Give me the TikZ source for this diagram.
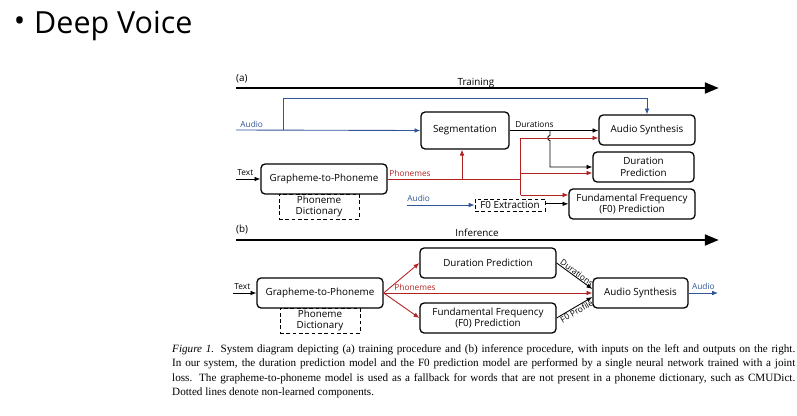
\documentclass[tikz,border=0pt]{standalone}
\usepackage{fontspec}
\setmainfont{Liberation Serif}
\newfontfamily\diagfont{Open Sans}
\usetikzlibrary{arrows.meta}

\definecolor{audioblue}{RGB}{47,85,151}
\definecolor{phonered}{RGB}{178,34,34}

\newcommand{\boxfont}{\diagfont\fontsize{8.4}{10}\selectfont}
\newcommand{\tagfont}{\diagfont\fontsize{7.1}{8}\selectfont}
\newcommand{\capfont}{\fontsize{9.5}{12.2}\selectfont}
\newcommand{\capline}[1]{\makebox[18.69cm][s]{#1}}

\tikzset{
  blk/.style={draw, rounded corners=3.5pt, line width=1.1pt, align=center, font=\boxfont, inner sep=0pt},
  dashblk/.style={draw, dash pattern=on 3.2pt off 2.2pt, line width=0.8pt, align=center, font=\boxfont, inner sep=0pt},
  sz/.style 2 args={minimum width=#1*0.03cm, minimum height=#2*0.03cm},
  arr/.style={-{Latex[length=5pt,width=4pt]}, line width=0.75pt},
  bluearr/.style={arr, audioblue},
  redarr/.style={arr, phonered},
  redline/.style={line width=0.75pt, phonered},
  timeline/.style={line width=2.5pt, -{Triangle[length=12pt,width=9pt]}},
  tag/.style={font=\tagfont, inner sep=1pt},
  capl/.style={font=\capfont, anchor=base west, inner sep=0pt},
}

\begin{document}
\begin{tikzpicture}[x=0.03cm, y=-0.03cm]
\useasboundingbox (0,0) rectangle (797,415);

% title
\node[font=\diagfont\fontsize{26}{30}\selectfont, inner sep=0pt] (bullet) at (19.5,24.5) {•};
\node[font=\diagfont\fontsize{26}{30}\selectfont, anchor=base west, inner sep=0pt] (title) at (34,33) {Deep Voice};

% (a) training
\node[font=\boxfont, anchor=base west, inner sep=0pt] (parta) at (236,81) {(a)};
\node[font=\boxfont, anchor=base, inner sep=0pt] (train) at (476,85) {Training};
\coordinate (ta0) at (236,88);
\coordinate (ta1) at (719,88);
\draw[timeline] (ta0) -- (ta1);

\node[dashblk, sz={80}{25}] (dicta) at (319,206.5) {Phoneme\\Dictionary};
\node[blk, sz={126}{30}] (gtpa) at (324,179) {Grapheme-to-Phoneme};
\node[blk, sz={88}{37}] (sega) at (465,130.5) {Segmentation};
\node[blk, sz={96}{30}] (syna) at (647,130) {Audio Synthesis};
\node[blk, sz={101}{30}] (dura) at (643.5,167) {Duration\\Prediction};
\node[blk, sz={126}{30}] (fza) at (632,204) {Fundamental Frequency\\(F0) Prediction};
\node[dashblk, sz={70}{12}] (fzx) at (510,205) {F0 Extraction};

% audio in
\coordinate (auda) at (236,130);
\coordinate (audak) at (283,130);
\coordinate (audatop) at (283,98);
\node[tag, text=audioblue, anchor=base west] (audalbl) at (239,127.5) {Audio};
\draw[bluearr] (auda) -- (sega.west);
\draw[bluearr] (audak) -- (audatop) -| (syna.north);

% text in
\coordinate (txta) at (236,179);
\node[tag, anchor=base west] (txtalbl) at (236,175.5) {Text};
\draw[arr] (txta) -- (gtpa.west);

% durations
\coordinate (durk) at (550,130.5);
\draw[arr] (sega.east |- durk) -- (durk -| syna.west);
\node[tag, anchor=base] (durlbl) at (534.5,127.5) {Durations};
\draw[arr] (durk) -- (550,135.5) .. controls (547,135.5) and (547,140.5) .. (550,140.5) |- (dura.west);

% phonemes
\coordinate (phk) at (462,179);
\coordinate (rtop) at (520.5,138);
\coordinate (rmid) at (520.5,173);
\coordinate (rbot) at (520.5,195);
\draw[redline] (gtpa.east) -- (rbot |- gtpa.east);
\node[tag, text=phonered, anchor=base west] (phlbla) at (388,176) {Phonemes};
\draw[redarr] (phk) -- (phk |- sega.south);
\draw[redline] (rtop) -- (rbot);
\draw[redarr] (rtop) -- (rtop -| syna.west);
\draw[redarr] (rmid) -- (rmid -| dura.west);
\draw[redarr] (rbot) -- (rbot -| fza.west);

% f0 extraction
\coordinate (audb) at (407,205);
\node[tag, text=audioblue, anchor=base west] (audblbl) at (406,201.5) {Audio};
\draw[bluearr] (audb) -- (fzx.west);
\draw[arr] ([yshift=1pt]fzx.east) -- ([yshift=1pt]fzx.east -| fza.west);

% (b) inference
\node[font=\boxfont, anchor=base west, inner sep=0pt] (partb) at (236,232) {(b)};
\node[font=\boxfont, anchor=base, inner sep=0pt] (infer) at (477,236.5) {Inference};
\coordinate (tb0) at (236,240);
\coordinate (tb1) at (719,240);
\draw[timeline] (tb0) -- (tb1);

\node[dashblk, sz={80}{25}] (dictb) at (320,320.5) {Phoneme\\Dictionary};
\node[blk, sz={126}{30}] (gtpb) at (320,293) {Grapheme-to-Phoneme};
\node[blk, sz={136}{30}] (durb) at (488,263) {Duration Prediction};
\node[blk, sz={136}{30}] (fzb) at (488,318) {Fundamental Frequency\\(F0) Prediction};
\node[blk, sz={95}{30}] (synb) at (640.5,293) {Audio Synthesis};

\coordinate (txtb) at (233,293);
\node[tag, anchor=base west] (txtblbl) at (233,289.5) {Text};
\draw[arr] (txtb) -- (gtpb.west);

\draw[redarr] (gtpb.east) -- (durb.west);
\draw[redarr] (gtpb.east) -- (fzb.west);
\draw[redarr] (gtpb.east) -- (synb.west);
\node[tag, text=phonered, anchor=base west] (phlblb) at (393,290.5) {Phonemes};

\draw[arr] (durb.east) -- ([yshift=3.4pt]synb.west)
  node[tag, midway, sloped, above, inner sep=0.5pt] {Durations};
\draw[arr] (fzb.east) -- ([yshift=-3.4pt]synb.west)
  node[tag, midway, sloped, below, inner sep=0.5pt] {F0 Profile};

\coordinate (audout) at (718,293);
\draw[bluearr] (synb.east) -- (audout)
  node[tag, text=audioblue, midway, above=1.5pt] {Audio};

% caption
\node[capl] (cap1) at (172,352.5) {\capline{\textit{Figure 1.} System diagram depicting (a) training procedure and (b) inference procedure, with inputs on the left and outputs on the right.}};
\node[capl] (cap2) at (172,366.8) {\capline{In our system, the duration prediction model and the F0 prediction model are performed by a single neural network trained with a joint}};
\node[capl] (cap3) at (172,381) {\capline{loss. The grapheme-to-phoneme model is used as a fallback for words that are not present in a phoneme dictionary, such as CMUDict.}};
\node[capl] (cap4) at (172,395.3) {Dotted lines denote non-learned components.};
\end{tikzpicture}
\end{document}
